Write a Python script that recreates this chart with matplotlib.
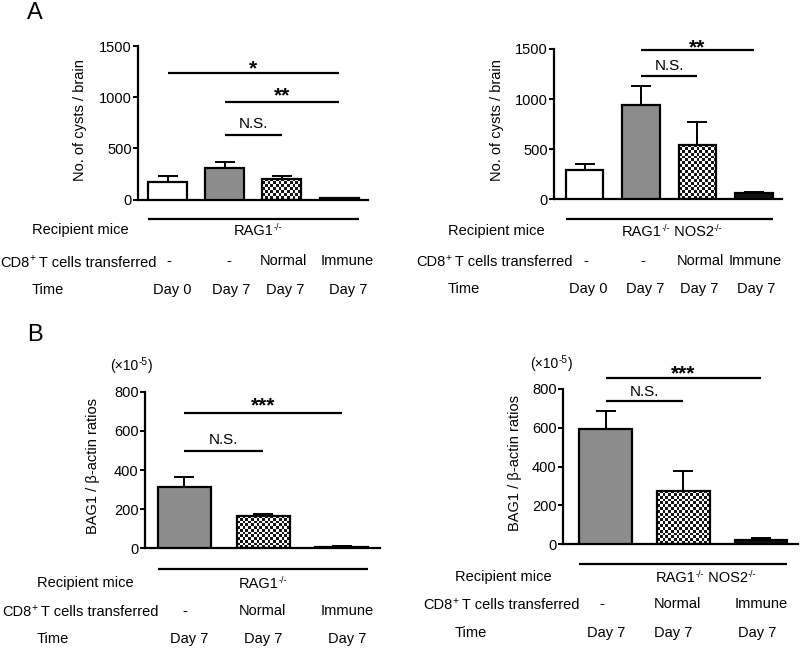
import numpy as np
import matplotlib
matplotlib.use('Agg')
import matplotlib.pyplot as plt
import matplotlib.transforms as mt
from matplotlib.colors import ListedColormap

plt.rcParams['font.family'] = ['Liberation Sans', 'DejaVu Sans']
plt.rcParams['mathtext.fontset'] = 'custom'
plt.rcParams['mathtext.rm'] = 'Liberation Sans'

# ---------------- data ----------------
a_left_values = [168, 305, 200, 10]
a_left_errors = [59, 65, 30, 5]
a_left_sig = [(0, 3, 1240, '*'), (1, 3, 956, '**'), (1, 2, 633, 'N.S.')]

a_right_values = [290, 944, 542, 60]
a_right_errors = [65, 184, 226, 16]
a_right_sig = [(1, 3, 1493, '**'), (1, 2, 1228, 'N.S.')]

a_fills = ['white', 'grey', 'checker', 'black']
a_transferred = ['-', '-', 'Normal', 'Immune']
a_time = ['Day 0', 'Day 7', 'Day 7', 'Day 7']
a_yticks = [0, 500, 1000, 1500]

b_left_values = [311, 165, 8]
b_left_errors = [55, 9, 3]
b_left_sig = [(0, 2, 693, '***'), (0, 1, 498, 'N.S.')]

b_right_values = [593, 274, 22]
b_right_errors = [92, 104, 8]
b_right_sig = [(0, 2, 858, '***'), (0, 1, 737, 'N.S.')]

b_fills = ['grey', 'checker', 'black']
b_transferred = ['-', 'Normal', 'Immune']
b_time = ['Day 7', 'Day 7', 'Day 7']
b_yticks = [0, 200, 400, 600, 800]

rag1 = [('RAG1', False), ('-/-', True)]
rag1_nos2 = [('RAG1', False), ('-/-', True), (' NOS2', False), ('-/-', True)]
cd8_label = [('CD8', False), ('+', True), (' T cells transferred', False)]
scale_label = [('(\u00d710', False), ('-5', True), (')', False)]
ylabel_a = 'No. of cysts / brain'
ylabel_b = 'BAG1 / \u03b2-actin ratios'
row_labels = ['Recipient mice', 'Time']

# ---------------- figure ----------------
W, H = 800, 649
DPI = 100
fig = plt.figure(figsize=(W / DPI, H / DPI), dpi=DPI)
FS = 10.5
renderer = fig.canvas.get_renderer()


def fx(x):
    return x / W


def fy(y):
    return 1 - y / H


def pt2px(p):
    return p * DPI / 72.0


def sup_text(x, y, parts, ha='center', fontsize=FS, sup_scale=0.62):
    """Draw text with small superscripts; x,y in reference pixels, y = visual centre."""
    em = pt2px(fontsize)
    baseline = (H - y) - 0.716 * em / 2
    items = []
    total = 0
    for s, sup in parts:
        fs = fontsize * sup_scale if sup else fontsize
        t = fig.text(0, 0, s, fontsize=fs, transform=mt.IdentityTransform(),
                     ha='left', va='baseline')
        w = t.get_window_extent(renderer).width
        items.append((t, w, sup))
        total += w
    cur = x - total / 2 if ha == 'center' else x
    for t, w, sup in items:
        yy = baseline + (0.36 * em if sup else 0)
        t.set_position((cur, yy))
        cur += w


FILL = {'white': 'white', 'grey': '#8c8c8c', 'checker': 'none', 'black': '#111111'}
checker_cmap = ListedColormap(['white', '#151515'])


def panel(values, errors, fills, sig, yticks, box, xlim, width, sig_px):
    x0, x1, yb, yt = box
    ax = fig.add_axes([fx(x0), fy(yb), (x1 - x0) / W, (yb - yt) / H])
    pos = np.arange(len(values))
    bars = ax.bar(pos, values, width, color=[FILL[f] for f in fills],
                  edgecolor='black', linewidth=1.6, zorder=3)
    ax.errorbar(pos, values, yerr=[np.zeros(len(errors)), errors], fmt='none',
                ecolor='black', elinewidth=1.4, capsize=7, capthick=1.4, zorder=2)
    ax.set_xlim(*xlim)
    ax.set_ylim(0, yticks[-1])
    px_per_x = (x1 - x0) / (xlim[1] - xlim[0])
    px_per_y = (yb - yt) / yticks[-1]
    for b, f, p, v in zip(bars, fills, pos, values):
        if f != 'checker':
            continue
        nx = max(1, int(round(width * px_per_x / 2.8)))
        ny = max(1, int(round(v * px_per_y / 2.8)))
        arr = np.indices((ny, nx)).sum(axis=0) % 2
        im = ax.imshow(arr, extent=[p - width / 2, p + width / 2, 0, v], cmap=checker_cmap,
                       interpolation='nearest', aspect='auto', zorder=2.5, origin='lower')
        im.set_clip_path(b)
    ax.set_xlim(*xlim)
    ax.set_ylim(0, yticks[-1])
    for s in ['top', 'right']:
        ax.spines[s].set_visible(False)
    for s in ['left', 'bottom']:
        ax.spines[s].set_linewidth(1.6)
    ax.set_xticks([])
    ax.set_yticks(yticks)
    ax.tick_params(axis='y', direction='out', length=3.5, width=1.4, pad=1, labelsize=FS)
    for (i, j, y, lab), cpx in zip(sig, sig_px):
        ax.plot([i, j], [y, y], color='black', lw=1.6, clip_on=False, solid_capstyle='butt')
        if lab.startswith('*'):
            fs = 15
            gc = 0.57 * pt2px(fs)
            weight = 'bold'
        else:
            fs = FS + 0.5
            gc = 0.358 * pt2px(fs)
            weight = 'normal'
        off = (cpx - gc) * 72.0 / DPI
        ax.annotate(lab, xy=((i + j) / 2, y), xytext=(0, off), textcoords='offset points',
                    ha='center', va='baseline', fontsize=fs, fontweight=weight,
                    annotation_clip=False)
    return ax, pos


def table(ax, pos, first, last, underline_y, rows_y, label_x, cd8_x, recipient, recipient_x,
          tr_x, tr_labels, time_x, time_labels):
    tr = mt.blended_transform_factory(ax.transData, fig.transFigure)
    w = ax.patches[0].get_width()
    ax.plot([pos[first] - w / 2, pos[last] + w / 2], [fy(underline_y)] * 2, transform=tr,
            color='black', lw=1.6, clip_on=False, solid_capstyle='butt')
    fig.text(fx(label_x), fy(rows_y[0]), row_labels[0], ha='left', va='center', fontsize=FS)
    sup_text(cd8_x, rows_y[1], cd8_label, ha='left', sup_scale=0.7)
    fig.text(fx(label_x), fy(rows_y[2]), row_labels[1], ha='left', va='center', fontsize=FS)
    sup_text(recipient_x, rows_y[0], recipient)
    for x, t in zip(tr_x, tr_labels):
        fig.text(fx(x), fy(rows_y[1]), t, ha='center', va='center', fontsize=FS)
    for x, t in zip(time_x, time_labels):
        fig.text(fx(x), fy(rows_y[2]), t, ha='center', va='center', fontsize=FS)


# Panel A left
axA1, posA1 = panel(a_left_values, a_left_errors, a_fills, a_left_sig, a_yticks,
                    (138, 368, 199.5, 46), (-0.516, 3.505), 0.68, [10, 11.7, 11.7])
table(axA1, posA1, 0, 3, 219, (230, 261.5, 290), 32, 0, rag1, 258,
      [169, 229, 283, 347], a_transferred, [172, 231, 285, 348], a_time)
fig.text(fx(80), fy(120), ylabel_a, rotation=90, ha='center', va='center', fontsize=FS)

# Panel A right
axA2, posA2 = panel(a_right_values, a_right_errors, a_fills, a_right_sig, a_yticks,
                    (554, 782, 199.3, 49), (-0.54, 3.496), 0.66, [8, 11.3])
table(axA2, posA2, 0, 3, 219, (231, 261, 289), 448, 416, rag1_nos2, 672,
      [586, 643, 700, 755], a_transferred, [588, 645, 699, 756], a_time)
fig.text(fx(497), fy(120), ylabel_a, rotation=90, ha='center', va='center', fontsize=FS)

# Panel B left
axB1, posB1 = panel(b_left_values, b_left_errors, b_fills, b_left_sig, b_yticks,
                    (145, 380, 548.3, 391.7), (-0.503, 2.49), 0.675, [12.7, 12.7])
table(axB1, posB1, 0, 2, 569.3, (583, 611, 639), 37, 2, rag1, 263,
      [185, 262, 347], b_transferred, [189, 263, 347], b_time)
fig.text(fx(93), fy(466), ylabel_b, rotation=90, ha='center', va='center', fontsize=FS)
sup_text(131.5, 365, scale_label, fontsize=FS - 0.5, sup_scale=0.72)

# Panel B right
axB2, posB2 = panel(b_right_values, b_right_errors, b_fills, b_right_sig, b_yticks,
                    (563, 798, 544.3, 389), (-0.547, 2.476), 0.68, [10.6, 11])
table(axB2, posB2, 0, 2, 564, (577, 604, 633), 455, 423, rag1_nos2, 706,
      [602, 677, 761], b_transferred, [606, 673, 757], b_time)
fig.text(fx(515), fy(463), ylabel_b, rotation=90, ha='center', va='center', fontsize=FS)
sup_text(551.5, 363, scale_label, fontsize=FS - 0.5, sup_scale=0.72)

# panel letters
fig.text(fx(35), fy(13), 'A', ha='center', va='center', fontsize=17)
fig.text(fx(35), fy(335), 'B', ha='center', va='center', fontsize=17)

fig.savefig('out.png', dpi=DPI)
